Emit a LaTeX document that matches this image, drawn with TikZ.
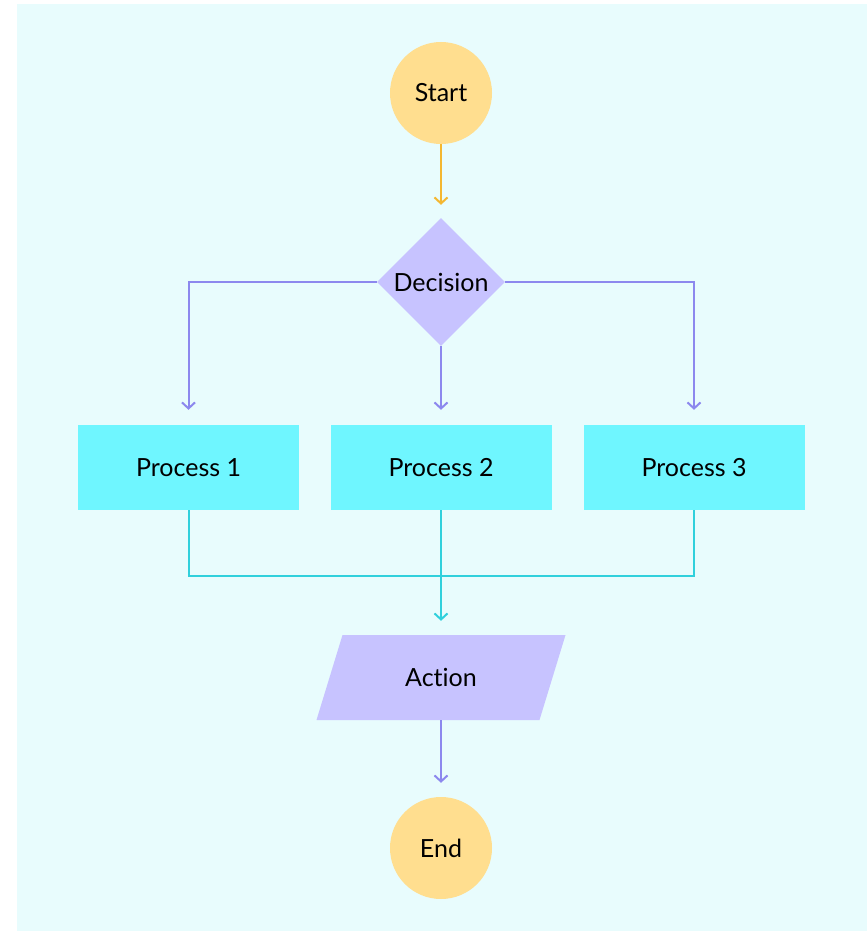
\documentclass[tikz,border=0pt]{standalone}
\usepackage{fontspec}
\setmainfont{Lato}[Ligatures=NoCommon]
\usepackage{tikz}
\usetikzlibrary{shapes.geometric,arrows.meta}

\definecolor{bgcyan}{HTML}{E8FCFD}
\definecolor{termfill}{HTML}{FFDE8F}
\definecolor{lavfill}{HTML}{C7C3FF}
\definecolor{procfill}{HTML}{6FF6FF}
\definecolor{lavline}{HTML}{8C88EE}
\definecolor{cyanline}{HTML}{30D0DC}
\definecolor{orangeline}{HTML}{F4B731}

\tikzset{
	terminal/.style={circle,fill=termfill,minimum size=102pt,inner sep=0pt},
	decision/.style={diamond,fill=lavfill,minimum width=128pt,minimum height=128pt,inner sep=0pt,aspect=1},
	process/.style={rectangle,fill=procfill,minimum width=221pt,minimum height=85pt,inner sep=0pt},
	action/.style={rectangle,minimum width=249pt,minimum height=85pt,inner sep=0pt,
		path picture={\fill[lavfill] (path picture bounding box.south west) -- ([xshift=-26pt]path picture bounding box.south east) -- (path picture bounding box.north east) -- ([xshift=26pt]path picture bounding box.north west) -- cycle;}},
	link/.style={line width=2pt,-{Straight Barb[length=6pt,width=13pt,line width=2pt]}},
	joint/.style={line width=2pt}
}

\begin{document}
\begin{tikzpicture}[x=1pt,y=-1pt,font=\fontsize{25}{30}\selectfont]
		    \useasboundingbox (0,0) rectangle (867,931);
		    \fill[bgcyan] (17,4) rectangle (867,931);
		
		    \node[terminal] (start) at (441,93) {Start};
		    \node[decision] (dec) at (441,282) {Decision};
		
		    \node[process] (p1) at (188.5,467.5) {Process 1};
		    \node[process] (p2) at (441,467.5) {Process 2};
		    \node[process] (p3) at (694,467.5) {Process 3};
		
		    \node[action] (act) at (441,677.5) {Action};
		    \node[terminal] (stop) at (441,848) {End};
		
		    \draw[link,orangeline,shorten >=13pt] (start) -- (dec);
		
		    \draw[link,lavline,shorten >=15pt] (dec.west) -| (p1.north);
		    \draw[link,lavline,shorten >=15pt] (dec) -- (p2);
		    \draw[link,lavline,shorten >=15pt] (dec.east) -| (p3.north);
		
		    \draw[joint,cyanline] (p1.south) |- (441,576) -| (p3.south);
		    \draw[link,cyanline,shorten >=14pt] (p2) -- (act);
		
		    \draw[link,lavline,shorten >=14pt] (act) -- (stop);
\end{tikzpicture}
\end{document}
